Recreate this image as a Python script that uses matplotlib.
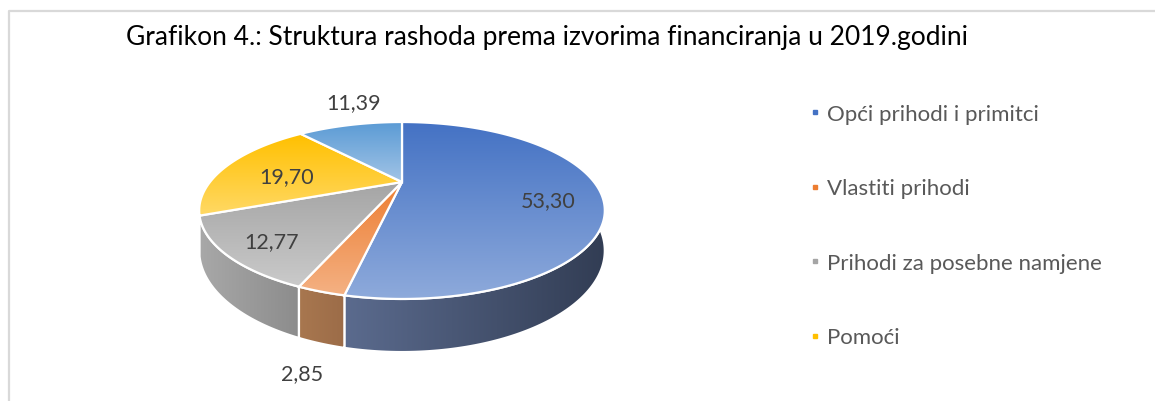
import numpy as np
import matplotlib.pyplot as plt
from matplotlib.patches import Polygon
from matplotlib.lines import Line2D
import matplotlib.colors as mcolors

# ======================================================
# DATA
# ======================================================
title = "Grafikon 4.: Struktura rashoda prema izvorima financiranja u 2019.godini"
categories = ["Opći prihodi i primitci", "Vlastiti prihodi",
              "Prihodi za posebne namjene", "Pomoći", "Ostalo"]
values = [53.30, 2.85, 12.77, 19.70, 11.39]
value_labels = ["53,30", "2,85", "12,77", "19,70", "11,39"]

# top face gradient (top colour, bottom colour), side gradient (left, right)
top_colors = [("#4472c4", "#8eaadb"), ("#ed7d31", "#f4b183"),
              ("#a5a5a5", "#cacaca"), ("#ffc000", "#ffd966"),
              ("#5b9bd5", "#a2c4e6")]
side_colors = [("#5b6b8e", "#323d54"), ("#a8774f", "#9c6c48"),
               ("#a8a8a8", "#8c8c8c"), ("#c89a10", "#b38a0c"),
               ("#4a7fb0", "#3f6d98")]
legend_colors = ["#4472c4", "#ed7d31", "#a5a5a5", "#ffc000"]

# ======================================================
# GEOMETRY (pixel space)
# ======================================================
W, H = 1155, 402
cx, cy = 402, 183      # projected pie centre
R, Ry = 192, 79.3      # radii
k = 0.322              # perspective factor
depth = 36             # thickness


def project(t, r=1.0, dz=0.0):
    u = r * np.sin(t)
    v = -r * np.cos(t)
    s = 1.0 / (1 - k * v)
    return cx + R * u * s, cy + Ry * v * s + dz * s


def grad_fill(ax, poly_xy, c1, c2, z, horizontal=False):
    patch = Polygon(poly_xy, closed=True, facecolor="none",
                    edgecolor="white", lw=1.6, zorder=z + 0.5)
    ax.add_patch(patch)
    x0, y0 = poly_xy.min(axis=0)
    x1, y1 = poly_xy.max(axis=0)
    cmap = mcolors.LinearSegmentedColormap.from_list("g", [c1, c2])
    g = np.linspace(0, 1, 256)
    arr = g[None, :] if horizontal else g[:, None]
    im = ax.imshow(arr, cmap=cmap, extent=(x0, x1, y1, y0), origin="upper",
                   aspect="auto", interpolation="bilinear", zorder=z)
    im.set_clip_path(patch)


fig = plt.figure(figsize=(W / 100, H / 100), dpi=100)
ax = fig.add_axes([0, 0, 1, 1])

# frame lines
ax.plot([9, 9, W], [H, 12, 12], color="#d9d9d9", lw=1.6, zorder=1)

fracs = np.array(values) / sum(values)
bounds = np.concatenate([[0], np.cumsum(fracs)]) * 2 * np.pi

# side walls, back to front
order = sorted(range(len(values)),
               key=lambda i: -np.cos((bounds[i] + bounds[i + 1]) / 2))
for n, i in enumerate(order):
    t = np.linspace(bounds[i], bounds[i + 1], 200)
    xt, yt = project(t)
    xb, yb = project(t[::-1], dz=depth)
    poly = np.column_stack([np.concatenate([xt, xb]), np.concatenate([yt, yb])])
    grad_fill(ax, poly, *side_colors[i], z=2 + n, horizontal=True)

# top faces
for i in range(len(values)):
    t = np.linspace(bounds[i], bounds[i + 1], 200)
    xt, yt = project(t)
    poly = np.column_stack([np.concatenate([[cx], xt]), np.concatenate([[cy], yt])])
    grad_fill(ax, poly, *top_colors[i], z=10 + i)

# value labels
label_pos = [(548, 201), (302, 374), (272, 242), (287, 177), (354, 103)]
for (lx, ly), txt in zip(label_pos, value_labels):
    ax.text(lx, ly, txt, ha="center", va="center", fontsize=15.5,
            color="#404040", family="Lato", zorder=20)

ax.text(547, 37, title, ha="center", va="center", fontsize=19,
        color="black", family="Lato")

handles = [Line2D([], [], ls="none", marker="s", ms=3.5, color=c)
           for c in legend_colors]
ax.legend(handles, categories[:4], loc="upper left",
          bbox_to_anchor=(811 / W, 1 - 105 / H), frameon=False,
          prop={"family": "Lato", "size": 16}, labelcolor="#595959",
          handlelength=0.4, handletextpad=0.34, labelspacing=2.45,
          borderpad=0, borderaxespad=0)

ax.set_xlim(0, W)
ax.set_ylim(H, 0)
ax.axis("off")

fig.savefig("out.png", dpi=100)
